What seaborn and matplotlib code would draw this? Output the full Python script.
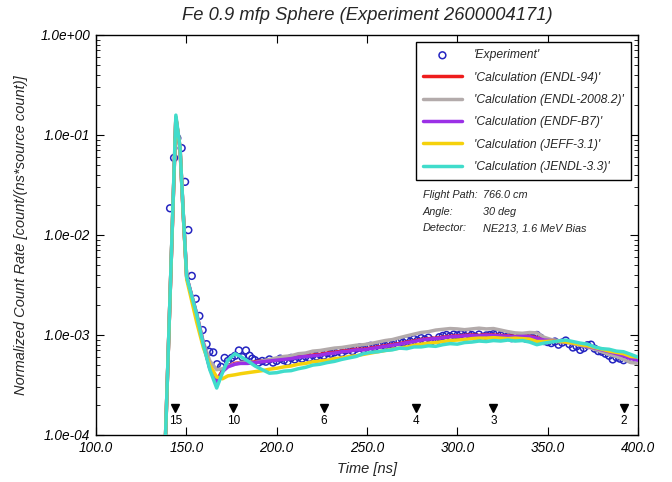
import numpy as np
import pandas as pd
import matplotlib
matplotlib.use("Agg")
import matplotlib.pyplot as plt
from matplotlib.ticker import FuncFormatter, LogLocator, MultipleLocator, NullLocator
import seaborn as sns

# ---------------- data ----------------
exp_t = [141, 143.2, 145, 147.4, 149.3, 151.1, 153, 155.2, 157.2, 159, 161.2, 162.7, 164.9, 167, 169.2,
         171.2, 173, 175.1, 177, 179.1, 181, 183, 185, 186.5,
         188, 190, 192, 194, 196, 198, 200, 202, 204, 206, 208, 210, 212, 214, 216, 218, 220, 222, 224,
         226, 228, 230, 232, 234, 236, 238, 240, 242, 244, 246, 248, 250, 252, 254, 256, 258, 260, 262,
         264, 266, 268, 270, 272, 274, 276, 278, 280, 282, 284, 286, 288, 290, 292, 294, 296, 298, 300,
         302, 304, 306, 308, 310, 312, 314, 316, 318, 320, 322, 324, 326, 328, 330, 332, 334, 336, 338,
         340, 342, 344, 346, 348, 350, 352, 354, 356, 358, 360, 362, 364, 366, 368, 370, 372, 374, 376,
         378, 380, 382, 384, 386, 388, 390, 392, 394, 396]
exp_y = [1.85e-2, 5.9e-2, 9.3e-2, 7.4e-2, 3.4e-2, 1.12e-2, 3.9e-3, 2.3e-3, 1.55e-3, 1.12e-3, 8.1e-4,
         6.8e-4, 6.7e-4, 5.1e-4, 4.8e-4, 5.9e-4, 5.5e-4, 5.9e-4, 6.2e-4, 7.0e-4, 6.0e-4, 7.0e-4, 6.2e-4,
         5.8e-4,
         5.6e-4, 5.3e-4, 5.5e-4, 5.4e-4, 5.7e-4, 5.3e-4, 5.5e-4, 5.8e-4, 5.6e-4, 5.4e-4, 5.9e-4, 5.7e-4,
         6.0e-4, 5.8e-4, 6.1e-4, 5.9e-4, 6.3e-4, 6.1e-4, 6.4e-4, 6.2e-4, 6.6e-4, 6.5e-4, 6.7e-4, 6.9e-4,
         6.6e-4, 7.0e-4, 7.2e-4, 6.9e-4, 7.3e-4, 7.5e-4, 7.2e-4, 7.6e-4, 7.8e-4, 7.5e-4, 7.9e-4, 8.1e-4,
         7.8e-4, 8.3e-4, 8.0e-4, 8.5e-4, 8.7e-4, 8.4e-4, 8.9e-4, 8.6e-4, 9.1e-4, 8.8e-4, 9.3e-4, 9.0e-4,
         9.4e-4, 8.8e-4, 8.4e-4, 9.5e-4, 9.8e-4, 1.0e-3, 9.7e-4, 1.01e-3, 9.9e-4, 1.02e-3, 9.8e-4,
         1.03e-3, 1.0e-3, 9.6e-4, 1.01e-3, 9.5e-4, 9.9e-4, 1.0e-3, 1.02e-3, 1.03e-3, 9.9e-4, 9.4e-4,
         9.7e-4, 9.3e-4, 9.6e-4, 9.4e-4, 9.7e-4, 9.2e-4, 9.5e-4, 9.3e-4, 1.0e-3, 9.4e-4, 8.7e-4, 8.5e-4,
         8.3e-4, 8.6e-4, 8.0e-4, 8.4e-4, 8.8e-4, 8.1e-4, 7.5e-4, 7.7e-4, 7.1e-4, 7.4e-4, 7.9e-4, 8.0e-4,
         7.3e-4, 6.9e-4, 6.8e-4, 6.5e-4, 6.2e-4, 5.7e-4, 6.0e-4, 5.8e-4, 5.6e-4, 5.9e-4, 5.7e-4]

calc_t = [136.5, 138.5, 144.2, 146.5, 148.3, 150.2, 155.7, 159.4, 163, 166.8, 170, 173, 176.9, 180, 184,
          188, 192, 196, 200, 204, 208, 212, 216, 220, 224, 228, 232, 236, 240, 244, 248, 252, 256, 260,
          264, 268, 272, 276, 280, 284, 288, 292, 296, 300, 304, 308, 312, 316, 320, 324, 328, 332, 336,
          340, 344, 348, 352, 356, 360, 364, 368, 372, 376, 380, 384, 388, 392, 396, 400]

endl94 = [1e-5, 1e-4, 1.48e-1, 7.4e-2, 1.62e-2, 3.8e-3, 1.62e-3, 8.3e-4, 4.7e-4, 3.5e-4, 4.4e-4, 4.9e-4,
          5.2e-4, 5.3e-4, 5.3e-4, 5.4e-4, 5.5e-4, 5.6e-4, 5.7e-4, 5.8e-4, 5.9e-4, 6.1e-4, 6.2e-4, 6.3e-4,
          6.4e-4, 6.6e-4, 6.7e-4, 6.9e-4, 7.0e-4, 7.2e-4, 7.2e-4, 7.4e-4, 7.6e-4, 7.8e-4, 8.0e-4, 8.2e-4,
          8.5e-4, 8.7e-4, 9.0e-4, 9.2e-4, 9.3e-4, 9.5e-4, 9.7e-4, 9.8e-4, 9.9e-4, 1.0e-3, 9.9e-4, 1.01e-3,
          1.0e-3, 9.9e-4, 9.8e-4, 9.7e-4, 9.8e-4, 9.7e-4, 9.4e-4, 9.0e-4, 8.9e-4, 8.7e-4, 8.6e-4, 8.4e-4,
          8.1e-4, 7.8e-4, 7.5e-4, 7.2e-4, 6.9e-4, 6.6e-4, 6.3e-4, 5.9e-4, 5.7e-4]
endl2008 = [1e-5, 1e-4, 1.45e-1, 7.2e-2, 1.6e-2, 3.8e-3, 1.65e-3, 8.5e-4, 5.5e-4, 4.5e-4, 4.6e-4, 4.9e-4,
            5.1e-4, 5.3e-4, 5.4e-4, 5.3e-4, 5.5e-4, 5.7e-4, 5.9e-4, 6.1e-4, 6.2e-4, 6.5e-4, 6.6e-4,
            6.9e-4, 7.0e-4, 7.2e-4, 7.4e-4, 7.5e-4, 7.7e-4, 7.9e-4, 8.0e-4, 8.2e-4, 8.5e-4, 8.8e-4,
            9.0e-4, 9.4e-4, 9.8e-4, 1.02e-3, 1.06e-3, 1.08e-3, 1.12e-3, 1.14e-3, 1.16e-3, 1.15e-3,
            1.13e-3, 1.15e-3, 1.17e-3, 1.15e-3, 1.16e-3, 1.12e-3, 1.08e-3, 1.05e-3, 1.04e-3, 1.06e-3,
            1.05e-3, 9.5e-4, 9.0e-4, 8.8e-4, 8.5e-4, 8.2e-4, 7.9e-4, 7.6e-4, 7.2e-4, 6.8e-4, 6.4e-4,
            6.1e-4, 5.7e-4, 5.3e-4, 5.2e-4]
endfb7 = [1e-5, 1e-4, 1.5e-1, 7.5e-2, 1.63e-2, 3.8e-3, 1.6e-3, 8.2e-4, 4.6e-4, 3.4e-4, 4.3e-4, 4.8e-4,
          5.1e-4, 5.2e-4, 5.2e-4, 5.3e-4, 5.4e-4, 5.5e-4, 5.6e-4, 5.7e-4, 5.8e-4, 6.0e-4, 6.1e-4, 6.2e-4,
          6.3e-4, 6.5e-4, 6.6e-4, 6.8e-4, 6.9e-4, 7.1e-4, 7.1e-4, 7.3e-4, 7.5e-4, 7.7e-4, 7.9e-4, 8.1e-4,
          8.4e-4, 8.6e-4, 8.9e-4, 9.1e-4, 9.2e-4, 9.4e-4, 9.6e-4, 9.7e-4, 9.8e-4, 9.9e-4, 9.8e-4, 1.0e-3,
          9.9e-4, 9.8e-4, 9.7e-4, 9.6e-4, 9.7e-4, 9.6e-4, 9.3e-4, 8.9e-4, 8.8e-4, 8.6e-4, 8.5e-4, 8.3e-4,
          8.0e-4, 7.7e-4, 7.4e-4, 7.1e-4, 6.8e-4, 6.5e-4, 6.2e-4, 5.8e-4, 5.6e-4]
jeff31 = [1e-5, 1e-4, 1.5e-1, 7.5e-2, 1.6e-2, 3.6e-3, 1.35e-3, 7.5e-4, 5.0e-4, 3.8e-4, 3.65e-4, 3.9e-4,
          4.0e-4, 4.1e-4, 4.2e-4, 4.3e-4, 4.4e-4, 4.55e-4, 4.65e-4, 4.8e-4, 4.9e-4, 5.1e-4, 5.2e-4, 5.4e-4,
          5.5e-4, 5.6e-4, 5.8e-4, 5.9e-4, 6.1e-4, 6.2e-4, 6.4e-4, 6.6e-4, 6.8e-4, 7.0e-4, 7.2e-4, 7.4e-4,
          7.6e-4, 7.9e-4, 8.1e-4, 8.3e-4, 8.4e-4, 8.6e-4, 8.8e-4, 8.9e-4, 9.0e-4, 9.2e-4, 9.3e-4, 9.3e-4,
          9.4e-4, 9.3e-4, 9.2e-4, 9.3e-4, 9.2e-4, 9.1e-4, 8.6e-4, 8.6e-4, 8.7e-4, 8.6e-4, 8.5e-4, 8.3e-4,
          8.0e-4, 7.8e-4, 7.5e-4, 7.2e-4, 6.9e-4, 6.7e-4, 6.5e-4, 6.1e-4, 6.0e-4]
jendl33 = [1e-5, 1e-4, 1.58e-1, 7.6e-2, 1.65e-2, 3.8e-3, 1.6e-3, 8.0e-4, 4.5e-4, 2.95e-4, 4.2e-4, 5.6e-4,
           6.5e-4, 6.1e-4, 5.5e-4, 4.9e-4, 4.5e-4, 4.15e-4, 4.2e-4, 4.35e-4, 4.4e-4, 4.6e-4, 4.75e-4,
           5.0e-4, 5.1e-4, 5.3e-4, 5.45e-4, 5.7e-4, 5.9e-4, 6.1e-4, 6.5e-4, 6.7e-4, 6.8e-4, 7.0e-4, 7.1e-4,
           7.4e-4, 7.3e-4, 7.6e-4, 7.6e-4, 7.8e-4, 7.7e-4, 8.0e-4, 8.2e-4, 8.1e-4, 8.4e-4, 8.5e-4, 8.7e-4,
           8.6e-4, 8.8e-4, 8.7e-4, 8.9e-4, 8.7e-4, 8.8e-4, 8.5e-4, 8.0e-4, 8.3e-4, 8.5e-4, 8.7e-4, 8.9e-4,
           8.6e-4, 8.3e-4, 8.1e-4, 7.6e-4, 7.3e-4, 7.2e-4, 6.9e-4, 6.8e-4, 6.4e-4, 6.0e-4]

series_names = ["'Calculation (ENDL-94)'", "'Calculation (ENDL-2008.2)'", "'Calculation (ENDF-B7)'",
                "'Calculation (JEFF-3.1)'", "'Calculation (JENDL-3.3)'"]
series_values = [endl94, endl2008, endfb7, jeff31, jendl33]
series_colors = ["#ee1c1c", "#b3abab", "#9b30e6", "#f5d10c", "#40dccb"]

marker_t = [144, 176, 226, 277, 320, 392]
marker_labels = ["15", "10", "6", "4", "3", "2"]
marker_y = 1.86e-4
marker_label_y = 1.38e-4

title = "Fe 0.9 mfp Sphere (Experiment 2600004171)"
info_keys = ["Flight Path:", "Angle:", "Detector:"]
info_vals = ["766.0 cm", "30 deg", "NE213, 1.6 MeV Bias"]

# ---------------- plot ----------------
sns.set_style("ticks")
FONT = ["Liberation Sans", "DejaVu Sans"]
plt.rcParams["font.family"] = FONT

fig = plt.figure(figsize=(6.72, 4.82), dpi=100)
ax = fig.add_axes([96 / 672, 1 - 435 / 482, (638 - 96) / 672, 400 / 482])

exp_df = pd.DataFrame({"t": exp_t, "y": exp_y})
sns.scatterplot(data=exp_df, x="t", y="y", ax=ax, marker="o", s=24, facecolor="none",
                edgecolor="#2424c0", linewidth=1.1, label="'Experiment'", zorder=2)

for name, vals, col in zip(series_names, series_values, series_colors):
    df = pd.DataFrame({"t": calc_t, "y": vals})
    sns.lineplot(data=df, x="t", y="y", ax=ax, color=col, linewidth=2.5, label=name,
                 estimator=None, sort=False, zorder=3)

ax.set_yscale("log")
ax.set_xlim(100, 400)
ax.set_ylim(1e-4, 1.0)

ax.xaxis.set_major_locator(MultipleLocator(50))
ax.xaxis.set_minor_locator(NullLocator())
ax.xaxis.set_major_formatter(FuncFormatter(lambda v, p: f"{v:.1f}"))
ax.yaxis.set_major_locator(LogLocator(base=10, numticks=10))
ax.yaxis.set_minor_locator(LogLocator(base=10, subs=np.arange(2, 10), numticks=20))
ax.yaxis.set_major_formatter(FuncFormatter(lambda v, p: f"{v:.1e}"))

ax.tick_params(axis="both", which="both", direction="in", top=True, right=True, colors="black")
ax.tick_params(axis="both", which="major", length=6, width=0.8, labelsize=9.8, pad=4)
ax.tick_params(axis="y", which="minor", length=3, width=0.6)
for lab in ax.get_xticklabels() + ax.get_yticklabels():
    lab.set_fontstyle("italic")
for sp in ax.spines.values():
    sp.set_visible(True)
    sp.set_color("black")
    sp.set_linewidth(1.0)

ax.set_xlabel("Time [ns]", fontsize=10.5, fontstyle="italic", labelpad=5)
ax.set_ylabel("Normalized Count Rate [count/(ns*source count)]", fontsize=10.5, fontstyle="italic",
              labelpad=9)
ax.set_title(title, fontsize=13.2, fontstyle="italic", pad=11)

# energy markers
ax.plot(marker_t, [marker_y] * len(marker_t), linestyle="none", marker="v", color="black",
        markersize=6, zorder=4)
for t, lab in zip(marker_t, marker_labels):
    ax.text(t, marker_label_y, lab, ha="center", va="center", fontsize=8.5, color="black")

# info text
for i, (k, v) in enumerate(zip(info_keys, info_vals)):
    yy = [0.600, 0.5575, 0.5175][i]
    ax.text(0.603, yy, k, transform=ax.transAxes, fontsize=7.8, fontstyle="italic", va="center")
    ax.text(0.714, yy, v, transform=ax.transAxes, fontsize=7.8, fontstyle="italic", va="center")

handles, labels = ax.get_legend_handles_labels()
leg = ax.legend(handles, labels, loc="upper right", bbox_to_anchor=(0.987, 0.982),
                prop={"style": "italic", "size": 8.7, "family": FONT}, frameon=True, fancybox=False,
                edgecolor="black", framealpha=1, handlelength=3.2, handletextpad=1.0,
                labelspacing=0.85, borderpad=0.6, borderaxespad=0)
leg.get_frame().set_linewidth(1.0)

fig.savefig("out.png", dpi=100)
